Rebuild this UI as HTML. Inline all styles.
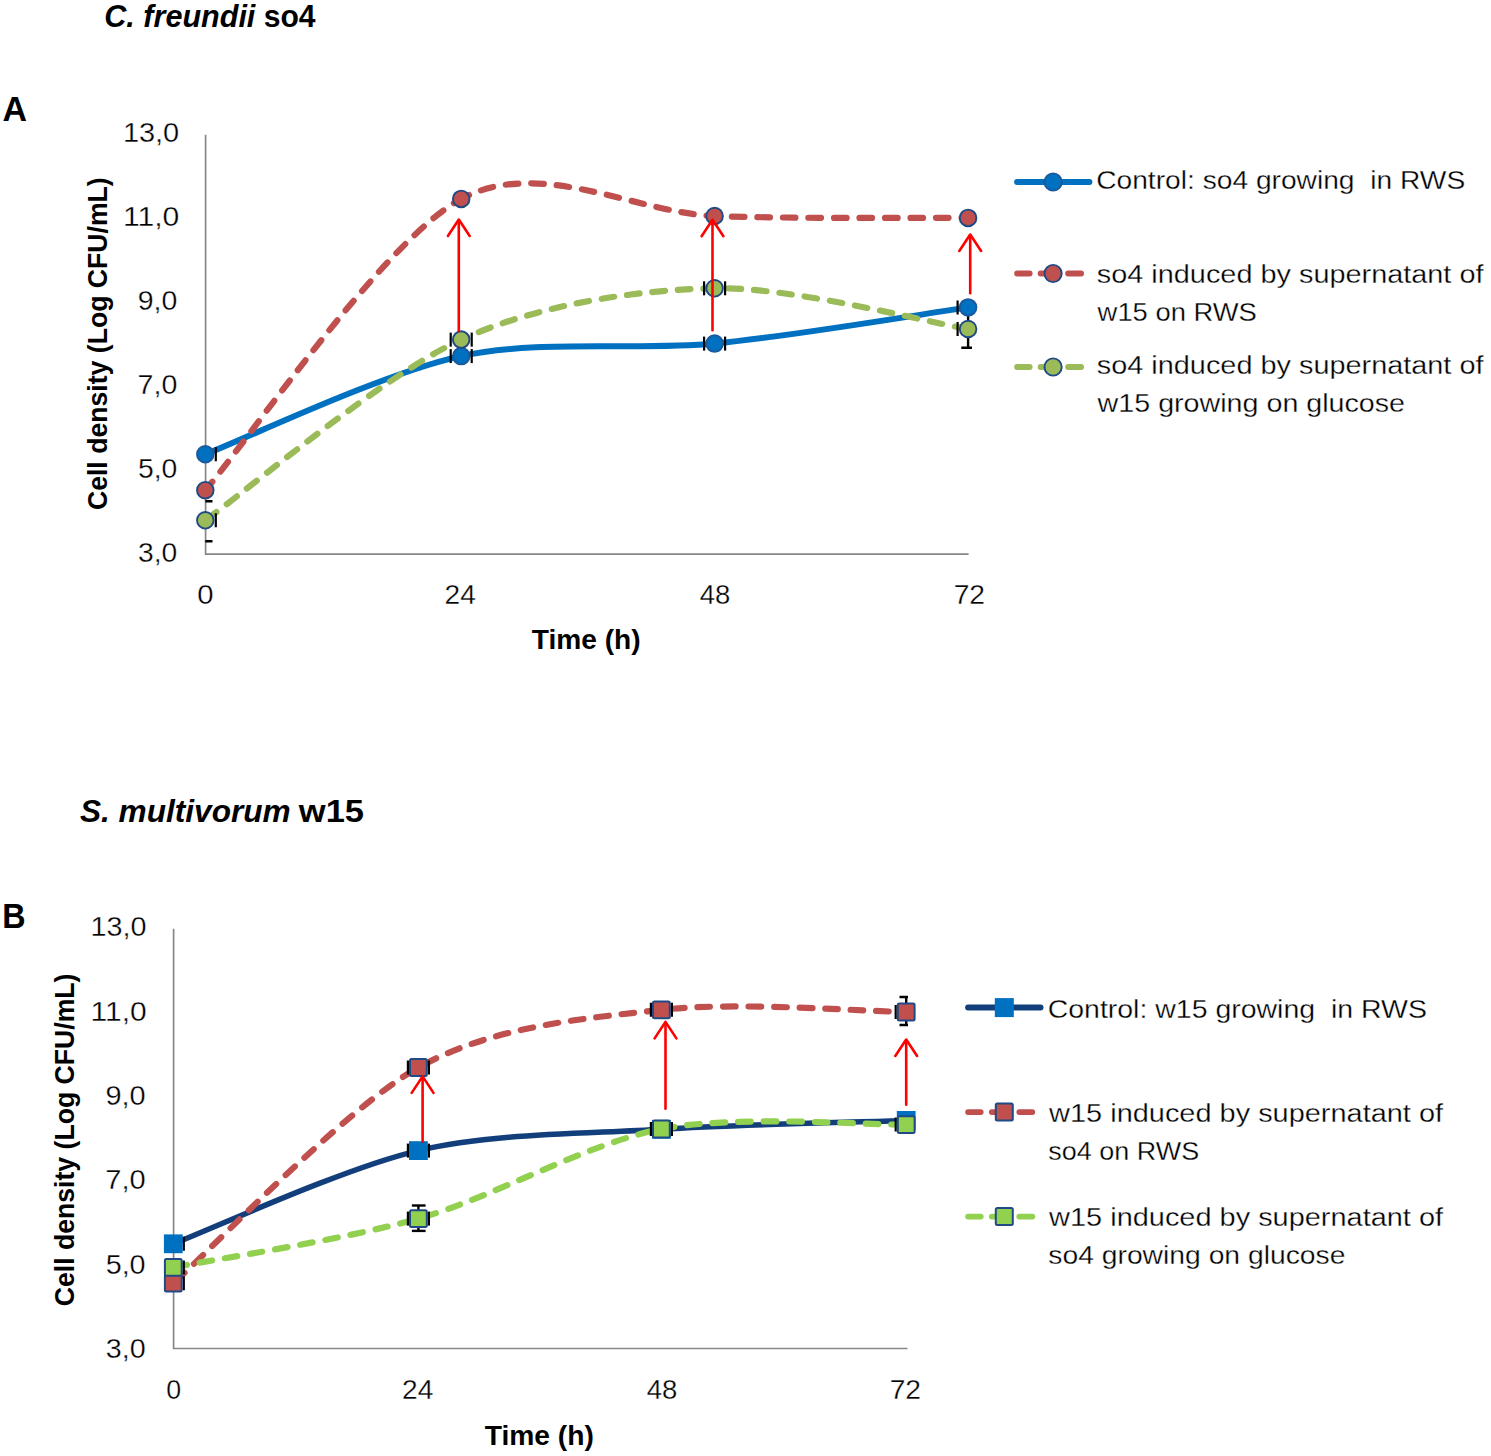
<!DOCTYPE html>
<html><head><meta charset="utf-8"><title>Cell density charts</title>
<style>
html,body{margin:0;padding:0;background:#fff;width:1491px;height:1456px;overflow:hidden;position:relative;font-family:"Liberation Sans", sans-serif;}
</style></head><body>
<svg width="1491" height="1456" viewBox="0 0 1491 1456" style="position:absolute;left:0;top:0">
<defs><clipPath id="clipA"><rect x="205.3" y="120" width="767" height="450"/></clipPath><clipPath id="clipB"><rect x="173.3" y="915" width="735" height="450"/></clipPath></defs>
<g font-family='"Liberation Sans", sans-serif' fill="#000">
<text x="104.31" y="27.40" font-size="31.60" font-weight="bold" font-style="italic" textLength="151.07" lengthAdjust="spacingAndGlyphs">C. freundii</text>
<text x="263.64" y="27.40" font-size="31.60" font-weight="bold" textLength="51.92" lengthAdjust="spacingAndGlyphs">so4</text>
<text x="80.01" y="821.60" font-size="31.60" font-weight="bold" font-style="italic" textLength="210.60" lengthAdjust="spacingAndGlyphs">S. multivorum</text>
<text x="298.80" y="821.60" font-size="31.60" font-weight="bold" textLength="65.26" lengthAdjust="spacingAndGlyphs">w15</text>
<text x="2.55" y="120.80" font-size="34.59" font-weight="bold" textLength="24.54" lengthAdjust="spacingAndGlyphs">A</text>
<text x="2.24" y="927.80" font-size="34.74" font-weight="bold" textLength="23.33" lengthAdjust="spacingAndGlyphs">B</text>
<g stroke="#878787" stroke-width="1.7" fill="none">
<polyline points="205.6,134.7 205.6,554.1 968.6,554.1"/>
<polyline points="173.6,928.7 173.6,1348.5 907.5,1348.5"/>
</g>
<text x="122.90" y="142.40" font-size="27.00" stroke="#fff" stroke-width="0.30" textLength="56.34" lengthAdjust="spacingAndGlyphs">13,0</text>
<text x="90.61" y="936.30" font-size="27.00" stroke="#fff" stroke-width="0.30" textLength="56.02" lengthAdjust="spacingAndGlyphs">13,0</text>
<text x="122.90" y="226.34" font-size="27.00" stroke="#fff" stroke-width="0.30" textLength="56.34" lengthAdjust="spacingAndGlyphs">11,0</text>
<text x="90.61" y="1020.62" font-size="27.00" stroke="#fff" stroke-width="0.30" textLength="56.02" lengthAdjust="spacingAndGlyphs">11,0</text>
<text x="137.77" y="310.28" font-size="27.00" stroke="#fff" stroke-width="0.30" textLength="39.54" lengthAdjust="spacingAndGlyphs">9,0</text>
<text x="105.45" y="1104.94" font-size="27.00" stroke="#fff" stroke-width="0.30" textLength="40.18" lengthAdjust="spacingAndGlyphs">9,0</text>
<text x="137.64" y="394.22" font-size="27.00" stroke="#fff" stroke-width="0.30" textLength="39.68" lengthAdjust="spacingAndGlyphs">7,0</text>
<text x="105.31" y="1189.26" font-size="27.00" stroke="#fff" stroke-width="0.30" textLength="40.32" lengthAdjust="spacingAndGlyphs">7,0</text>
<text x="137.97" y="478.16" font-size="27.00" stroke="#fff" stroke-width="0.30" textLength="39.34" lengthAdjust="spacingAndGlyphs">5,0</text>
<text x="105.65" y="1273.58" font-size="27.00" stroke="#fff" stroke-width="0.30" textLength="39.97" lengthAdjust="spacingAndGlyphs">5,0</text>
<text x="138.02" y="562.10" font-size="27.00" stroke="#fff" stroke-width="0.30" textLength="39.28" lengthAdjust="spacingAndGlyphs">3,0</text>
<text x="105.71" y="1357.90" font-size="27.00" stroke="#fff" stroke-width="0.30" textLength="39.92" lengthAdjust="spacingAndGlyphs">3,0</text>
<text x="197.36" y="604.40" font-size="27.40" stroke="#fff" stroke-width="0.30" textLength="16.29" lengthAdjust="spacingAndGlyphs">0</text>
<text x="166.35" y="1398.60" font-size="27.40" stroke="#fff" stroke-width="0.30" textLength="14.89" lengthAdjust="spacingAndGlyphs">0</text>
<text x="444.59" y="604.40" font-size="27.40" stroke="#fff" stroke-width="0.30" textLength="31.23" lengthAdjust="spacingAndGlyphs">24</text>
<text x="402.09" y="1398.60" font-size="27.40" stroke="#fff" stroke-width="0.30" textLength="31.23" lengthAdjust="spacingAndGlyphs">24</text>
<text x="699.77" y="604.40" font-size="27.40" stroke="#fff" stroke-width="0.30" textLength="30.63" lengthAdjust="spacingAndGlyphs">48</text>
<text x="646.67" y="1398.60" font-size="27.40" stroke="#fff" stroke-width="0.30" textLength="30.63" lengthAdjust="spacingAndGlyphs">48</text>
<text x="953.65" y="604.40" font-size="27.40" stroke="#fff" stroke-width="0.30" textLength="31.36" lengthAdjust="spacingAndGlyphs">72</text>
<text x="889.65" y="1398.60" font-size="27.40" stroke="#fff" stroke-width="0.30" textLength="31.36" lengthAdjust="spacingAndGlyphs">72</text>
<text x="531.79" y="648.70" font-size="28.49" font-weight="bold" textLength="108.91" lengthAdjust="spacingAndGlyphs">Time (h)</text>
<text x="484.68" y="1445.00" font-size="28.34" font-weight="bold" textLength="109.21" lengthAdjust="spacingAndGlyphs">Time (h)</text>
<text transform="translate(106.50,509.00) rotate(-90)" x="-1.09" y="0" font-size="27.50" font-weight="bold" textLength="332.82" lengthAdjust="spacingAndGlyphs">Cell density (Log CFU/mL)</text>
<text transform="translate(74.00,1305.20) rotate(-90)" x="-1.09" y="0" font-size="27.35" font-weight="bold" textLength="332.72" lengthAdjust="spacingAndGlyphs">Cell density (Log CFU/mL)</text>
<g clip-path="url(#clipA)">
<path d="M205.30,454.30 C244.67,439.19 382.85,373.13 461.20,356.10 C539.55,339.07 636.62,351.09 714.60,343.60 C792.58,336.11 929.10,312.97 968.10,307.40" fill="none" stroke="#0070C0" stroke-width="6.00" stroke-linecap="round"/>
<path d="M205.30,490.20 C244.67,445.38 382.85,241.08 461.20,198.90" fill="none" stroke="#C0504D" stroke-width="6.2" stroke-dasharray="12.6 12.9" stroke-dashoffset="1.50" stroke-linecap="round"/>
<path d="M461.20,198.90 C539.55,156.72 636.62,213.08 714.60,216.00" fill="none" stroke="#C0504D" stroke-width="6.2" stroke-dasharray="12.6 12.9" stroke-dashoffset="386.46" stroke-linecap="round"/>
<path d="M714.60,216.00 C792.58,218.92 929.10,217.61 968.10,217.90" fill="none" stroke="#C0504D" stroke-width="6.2" stroke-dasharray="12.6 12.9" stroke-dashoffset="645.66" stroke-linecap="round"/>
<path d="M205.30,520.30 C244.67,492.50 382.85,375.29 461.20,339.60" fill="none" stroke="#9BBB59" stroke-width="6.2" stroke-dasharray="12.6 12.9" stroke-dashoffset="-1.50" stroke-linecap="round"/>
<path d="M461.20,339.60 C539.55,303.91 636.62,289.93 714.60,288.30" fill="none" stroke="#9BBB59" stroke-width="6.2" stroke-dasharray="12.6 12.9" stroke-dashoffset="312.29" stroke-linecap="round"/>
<path d="M714.60,288.30 C792.58,286.67 929.10,322.74 968.10,329.00" fill="none" stroke="#9BBB59" stroke-width="6.2" stroke-dasharray="12.6 12.9" stroke-dashoffset="572.49" stroke-linecap="round"/>
</g>
<g clip-path="url(#clipB)">
<path d="M173.30,1243.80 C211.01,1229.46 343.31,1168.22 418.40,1150.60 C493.49,1132.98 586.35,1133.95 661.40,1129.30 C736.45,1124.65 868.54,1121.77 906.20,1120.40" fill="none" stroke="#123F7C" stroke-width="5.50" stroke-linecap="round"/>
<path d="M173.30,1283.20 C211.01,1250.02 343.31,1109.56 418.40,1067.50" fill="none" stroke="#C0504D" stroke-width="6.2" stroke-dasharray="12.6 12.9" stroke-dashoffset="-3.00" stroke-linecap="round"/>
<path d="M418.40,1067.50 C493.49,1025.44 586.35,1018.34 661.40,1009.80" fill="none" stroke="#C0504D" stroke-width="6.2" stroke-dasharray="12.6 12.9" stroke-dashoffset="324.14" stroke-linecap="round"/>
<path d="M661.40,1009.80 C736.45,1001.26 868.54,1011.66 906.20,1012.00" fill="none" stroke="#C0504D" stroke-width="6.2" stroke-dasharray="12.6 12.9" stroke-dashoffset="575.68" stroke-linecap="round"/>
<path d="M173.30,1267.40 C211.01,1259.89 343.31,1239.89 418.40,1218.60" fill="none" stroke="#92D050" stroke-width="6.2" stroke-dasharray="12.6 12.9" stroke-dashoffset="-1.50" stroke-linecap="round"/>
<path d="M418.40,1218.60 C493.49,1197.31 586.35,1143.46 661.40,1129.00" fill="none" stroke="#92D050" stroke-width="6.2" stroke-dasharray="12.6 12.9" stroke-dashoffset="249.00" stroke-linecap="round"/>
<path d="M661.40,1129.00 C736.45,1114.54 868.54,1125.28 906.20,1124.60" fill="none" stroke="#92D050" stroke-width="6.2" stroke-dasharray="12.6 12.9" stroke-dashoffset="509.36" stroke-linecap="round"/>
</g>
<g clip-path="url(#clipA)">
<g stroke="#000" stroke-width="2.2"><line x1="194.80" y1="447.30" x2="194.80" y2="461.30"/><line x1="215.80" y1="447.30" x2="215.80" y2="461.30"/></g>
<g stroke="#000" stroke-width="2.2"><line x1="450.70" y1="349.10" x2="450.70" y2="363.10"/><line x1="471.70" y1="349.10" x2="471.70" y2="363.10"/></g>
<g stroke="#000" stroke-width="2.2"><line x1="704.10" y1="336.60" x2="704.10" y2="350.60"/><line x1="725.10" y1="336.60" x2="725.10" y2="350.60"/></g>
<g stroke="#000" stroke-width="2.2"><line x1="194.80" y1="513.30" x2="194.80" y2="527.30"/><line x1="215.80" y1="513.30" x2="215.80" y2="527.30"/></g>
<g stroke="#000" stroke-width="2.2"><line x1="450.70" y1="332.60" x2="450.70" y2="346.60"/><line x1="471.70" y1="332.60" x2="471.70" y2="346.60"/></g>
<g stroke="#000" stroke-width="2.2"><line x1="704.10" y1="281.30" x2="704.10" y2="295.30"/><line x1="725.10" y1="281.30" x2="725.10" y2="295.30"/></g>
<g stroke="#000" stroke-width="2.2"><line x1="957.60" y1="300.40" x2="957.60" y2="314.40"/></g>
<g stroke="#000" stroke-width="2.2"><line x1="957.60" y1="322.00" x2="957.60" y2="336.00"/></g>
<g stroke="#000" stroke-width="2.4"><line x1="968.10" y1="315.00" x2="968.10" y2="347.80"/><line x1="961.3" y1="347.8" x2="972" y2="347.8"/></g>
<g stroke="#000" stroke-width="2.4"><line x1="205" y1="501.3" x2="212.5" y2="501.3"/><line x1="205" y1="541.3" x2="212.5" y2="541.3"/></g>
</g>
<circle cx="205.30" cy="490.20" r="8.30" fill="#C0504D" stroke="#1F4A85" stroke-width="1.90"/>
<circle cx="461.20" cy="198.90" r="8.30" fill="#C0504D" stroke="#1F4A85" stroke-width="1.90"/>
<circle cx="714.60" cy="216.00" r="8.30" fill="#C0504D" stroke="#1F4A85" stroke-width="1.90"/>
<circle cx="968.10" cy="217.90" r="8.30" fill="#C0504D" stroke="#1F4A85" stroke-width="1.90"/>
<circle cx="205.30" cy="454.30" r="8.30" fill="#0070C0" stroke="#1A5A9C" stroke-width="1.90"/>
<circle cx="461.20" cy="356.10" r="8.30" fill="#0070C0" stroke="#1A5A9C" stroke-width="1.90"/>
<circle cx="714.60" cy="343.60" r="8.30" fill="#0070C0" stroke="#1A5A9C" stroke-width="1.90"/>
<circle cx="968.10" cy="307.40" r="8.30" fill="#0070C0" stroke="#1A5A9C" stroke-width="1.90"/>
<circle cx="205.30" cy="520.30" r="8.30" fill="#9BBB59" stroke="#1F4A85" stroke-width="1.90"/>
<circle cx="461.20" cy="339.60" r="8.30" fill="#9BBB59" stroke="#1F4A85" stroke-width="1.90"/>
<circle cx="714.60" cy="288.30" r="8.30" fill="#9BBB59" stroke="#1F4A85" stroke-width="1.90"/>
<circle cx="968.10" cy="329.00" r="8.30" fill="#9BBB59" stroke="#1F4A85" stroke-width="1.90"/>
<g stroke="#FF0000" stroke-width="2.6" fill="none" stroke-linecap="round" stroke-linejoin="round"><line x1="458.80" y1="330.90" x2="458.80" y2="220.50"/><polyline points="447.90,236.00 458.80,219.50 469.70,236.00"/></g>
<g stroke="#FF0000" stroke-width="2.6" fill="none" stroke-linecap="round" stroke-linejoin="round"><line x1="712.50" y1="330.30" x2="712.50" y2="220.70"/><polyline points="701.60,236.20 712.50,219.70 723.40,236.20"/></g>
<g stroke="#FF0000" stroke-width="2.6" fill="none" stroke-linecap="round" stroke-linejoin="round"><line x1="970.20" y1="293.20" x2="970.20" y2="235.50"/><polyline points="959.30,251.00 970.20,234.50 981.10,251.00"/></g>
<g clip-path="url(#clipB)">
<g stroke="#000" stroke-width="2.2"><line x1="162.80" y1="1236.80" x2="162.80" y2="1250.80"/><line x1="183.80" y1="1236.80" x2="183.80" y2="1250.80"/></g>
<g stroke="#000" stroke-width="2.2"><line x1="407.90" y1="1143.60" x2="407.90" y2="1157.60"/><line x1="428.90" y1="1143.60" x2="428.90" y2="1157.60"/></g>
<g stroke="#000" stroke-width="2.2"><line x1="162.80" y1="1276.20" x2="162.80" y2="1290.20"/><line x1="183.80" y1="1276.20" x2="183.80" y2="1290.20"/></g>
<g stroke="#000" stroke-width="2.2"><line x1="407.90" y1="1060.50" x2="407.90" y2="1074.50"/><line x1="428.90" y1="1060.50" x2="428.90" y2="1074.50"/></g>
<g stroke="#000" stroke-width="2.2"><line x1="650.90" y1="1002.80" x2="650.90" y2="1016.80"/><line x1="671.90" y1="1002.80" x2="671.90" y2="1016.80"/></g>
<g stroke="#000" stroke-width="2.2"><line x1="162.80" y1="1260.40" x2="162.80" y2="1274.40"/><line x1="183.80" y1="1260.40" x2="183.80" y2="1274.40"/></g>
<g stroke="#000" stroke-width="2.2"><line x1="407.90" y1="1211.60" x2="407.90" y2="1225.60"/><line x1="428.90" y1="1211.60" x2="428.90" y2="1225.60"/></g>
<g stroke="#000" stroke-width="2.2"><line x1="650.90" y1="1122.00" x2="650.90" y2="1136.00"/><line x1="671.90" y1="1122.00" x2="671.90" y2="1136.00"/></g>
<g stroke="#000" stroke-width="2.2"><line x1="895.70" y1="1005.00" x2="895.70" y2="1019.00"/></g>
<g stroke="#000" stroke-width="2.2"><line x1="895.70" y1="1117.60" x2="895.70" y2="1131.60"/></g>
<g stroke="#000" stroke-width="2.4"><line x1="418.40" y1="1205.5" x2="418.40" y2="1230.9"/><line x1="411.9" y1="1205.5" x2="425.6" y2="1205.5"/><line x1="411.9" y1="1230.9" x2="425.6" y2="1230.9"/></g>
<g stroke="#000" stroke-width="2.4" fill="none"><line x1="906.2" y1="997" x2="906.2" y2="1025"/><line x1="899.5" y1="997" x2="908" y2="997"/><line x1="899.5" y1="1025" x2="908" y2="1025"/></g>
</g>
<rect x="164.90" y="1274.80" width="16.80" height="16.80" rx="1.5" fill="#C0504D" stroke="#1F4A85" stroke-width="2.00"/>
<rect x="410.00" y="1059.10" width="16.80" height="16.80" rx="1.5" fill="#C0504D" stroke="#1F4A85" stroke-width="2.00"/>
<rect x="653.00" y="1001.40" width="16.80" height="16.80" rx="1.5" fill="#C0504D" stroke="#1F4A85" stroke-width="2.00"/>
<rect x="897.80" y="1003.60" width="16.80" height="16.80" rx="1.5" fill="#C0504D" stroke="#1F4A85" stroke-width="2.00"/>
<rect x="163.90" y="1234.40" width="18.80" height="18.80" fill="#0070C0"/>
<rect x="409.00" y="1141.20" width="18.80" height="18.80" fill="#0070C0"/>
<rect x="652.00" y="1119.90" width="18.80" height="18.80" fill="#0070C0"/>
<rect x="896.80" y="1111.00" width="18.80" height="18.80" fill="#0070C0"/>
<rect x="164.90" y="1259.00" width="16.80" height="16.80" rx="1.5" fill="#92D050" stroke="#1F4A85" stroke-width="2.00"/>
<rect x="410.00" y="1210.20" width="16.80" height="16.80" rx="1.5" fill="#92D050" stroke="#1F4A85" stroke-width="2.00"/>
<rect x="653.00" y="1120.60" width="16.80" height="16.80" rx="1.5" fill="#92D050" stroke="#1F4A85" stroke-width="2.00"/>
<rect x="897.80" y="1116.20" width="16.80" height="16.80" rx="1.5" fill="#92D050" stroke="#1F4A85" stroke-width="2.00"/>
<g stroke="#FF0000" stroke-width="2.6" fill="none" stroke-linecap="round" stroke-linejoin="round"><line x1="422.60" y1="1141.60" x2="422.60" y2="1077.40"/><polyline points="411.70,1092.90 422.60,1076.40 433.50,1092.90"/></g>
<g stroke="#FF0000" stroke-width="2.6" fill="none" stroke-linecap="round" stroke-linejoin="round"><line x1="665.50" y1="1108.70" x2="665.50" y2="1022.90"/><polyline points="654.60,1038.40 665.50,1021.90 676.40,1038.40"/></g>
<g stroke="#FF0000" stroke-width="2.6" fill="none" stroke-linecap="round" stroke-linejoin="round"><line x1="906.20" y1="1104.80" x2="906.20" y2="1040.50"/><polyline points="895.30,1056.00 906.20,1039.50 917.10,1056.00"/></g>
<line x1="1017.10" y1="182.00" x2="1089.40" y2="182.00" stroke="#0070C0" stroke-width="6" stroke-linecap="round"/>
<circle cx="1053.10" cy="182.00" r="8.60" fill="#0070C0" stroke="#1A5A9C" stroke-width="1.90"/>
<g stroke="#C0504D" stroke-width="5.8" stroke-linecap="round"><line x1="1017.10" y1="273.50" x2="1029.70" y2="273.50"/><line x1="1040.60" y1="273.50" x2="1047.10" y2="273.50"/><line x1="1068.10" y1="273.50" x2="1081.10" y2="273.50"/></g>
<circle cx="1053.10" cy="273.50" r="8.60" fill="#C0504D" stroke="#1F4A85" stroke-width="1.90"/>
<g stroke="#9BBB59" stroke-width="5.8" stroke-linecap="round"><line x1="1017.10" y1="367.00" x2="1029.70" y2="367.00"/><line x1="1040.60" y1="367.00" x2="1047.10" y2="367.00"/><line x1="1068.10" y1="367.00" x2="1081.10" y2="367.00"/></g>
<circle cx="1053.10" cy="367.00" r="8.60" fill="#9BBB59" stroke="#1F4A85" stroke-width="1.90"/>
<text x="1096.17" y="189.20" font-size="26.40" stroke="#fff" stroke-width="0.30" textLength="369.02" lengthAdjust="spacingAndGlyphs" style="white-space:pre">Control: so4 growing  in RWS</text>
<text x="1096.80" y="282.80" font-size="26.40" stroke="#fff" stroke-width="0.30" textLength="386.66" lengthAdjust="spacingAndGlyphs" style="white-space:pre">so4 induced by supernatant of</text>
<text x="1097.64" y="321.30" font-size="26.40" stroke="#fff" stroke-width="0.30" textLength="159.21" lengthAdjust="spacingAndGlyphs" style="white-space:pre">w15 on RWS</text>
<text x="1096.80" y="374.10" font-size="26.40" stroke="#fff" stroke-width="0.30" textLength="386.66" lengthAdjust="spacingAndGlyphs" style="white-space:pre">so4 induced by supernatant of</text>
<text x="1097.64" y="412.40" font-size="26.40" stroke="#fff" stroke-width="0.30" textLength="307.43" lengthAdjust="spacingAndGlyphs" style="white-space:pre">w15 growing on glucose</text>
<line x1="968.10" y1="1007.60" x2="1040.50" y2="1007.60" stroke="#123F7C" stroke-width="6" stroke-linecap="round"/>
<rect x="994.80" y="998.10" width="19.00" height="19.00" fill="#0070C0"/>
<g stroke="#C0504D" stroke-width="5.8" stroke-linecap="round"><line x1="968.10" y1="1112.10" x2="980.70" y2="1112.10"/><line x1="991.80" y1="1112.10" x2="998.30" y2="1112.10"/><line x1="1019.30" y1="1112.10" x2="1032.30" y2="1112.10"/></g>
<rect x="995.80" y="1103.60" width="17.00" height="17.00" rx="1.5" fill="#C0504D" stroke="#1F4A85" stroke-width="2.00"/>
<g stroke="#92D050" stroke-width="5.8" stroke-linecap="round"><line x1="968.10" y1="1216.60" x2="980.70" y2="1216.60"/><line x1="991.80" y1="1216.60" x2="998.30" y2="1216.60"/><line x1="1019.30" y1="1216.60" x2="1032.30" y2="1216.60"/></g>
<rect x="995.80" y="1208.10" width="17.00" height="17.00" rx="1.5" fill="#92D050" stroke="#1F4A85" stroke-width="2.00"/>
<text x="1047.66" y="1017.70" font-size="26.40" stroke="#fff" stroke-width="0.30" textLength="379.25" lengthAdjust="spacingAndGlyphs" style="white-space:pre">Control: w15 growing  in RWS</text>
<text x="1049.14" y="1121.70" font-size="26.40" stroke="#fff" stroke-width="0.30" textLength="393.92" lengthAdjust="spacingAndGlyphs" style="white-space:pre">w15 induced by supernatant of</text>
<text x="1048.35" y="1159.90" font-size="26.40" stroke="#fff" stroke-width="0.30" textLength="150.88" lengthAdjust="spacingAndGlyphs" style="white-space:pre">so4 on RWS</text>
<text x="1049.14" y="1225.70" font-size="26.40" stroke="#fff" stroke-width="0.30" textLength="393.92" lengthAdjust="spacingAndGlyphs" style="white-space:pre">w15 induced by supernatant of</text>
<text x="1048.31" y="1264.40" font-size="26.40" stroke="#fff" stroke-width="0.30" textLength="297.14" lengthAdjust="spacingAndGlyphs" style="white-space:pre">so4 growing on glucose</text>
</g></svg>
</body></html>
